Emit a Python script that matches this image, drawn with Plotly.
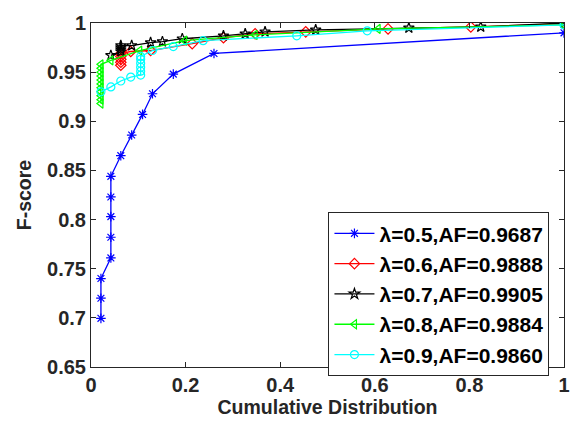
import plotly.graph_objects as go

x05 = [0.021, 0.021, 0.021, 0.042, 0.042, 0.042, 0.042, 0.042, 0.063, 0.086, 0.109, 0.130, 0.174, 0.260, 1.0]
y05 = [0.6995, 0.720, 0.740, 0.761, 0.782, 0.803, 0.823, 0.844, 0.865, 0.886, 0.907, 0.928, 0.948, 0.969, 0.990]

x06 = [0.063, 0.063, 0.063, 0.063, 0.063, 0.084, 0.126, 0.214, 0.280, 0.347, 0.454, 0.628, 0.803, 1.0]
y06 = [0.957, 0.960, 0.963, 0.966, 0.969, 0.971, 0.972, 0.979, 0.985, 0.989, 0.991, 0.994, 0.996, 0.999]

x07 = [0.042, 0.063, 0.063, 0.063, 0.063, 0.086, 0.126, 0.151, 0.193, 0.280, 0.326, 0.368, 0.475, 0.672, 0.824, 1.0]
y07 = [0.967, 0.971, 0.973, 0.975, 0.977, 0.977, 0.980, 0.981, 0.984, 0.987, 0.989, 0.991, 0.993, 0.995, 0.996, 1.0]

x08 = [0.021, 0.021, 0.021, 0.021, 0.021, 0.021, 0.021, 0.021, 0.021, 0.021, 0.021, 0.042, 0.103, 0.198, 0.347, 0.607, 1.0]
y08 = [0.918, 0.922, 0.926, 0.930, 0.934, 0.938, 0.942, 0.946, 0.950, 0.954, 0.958, 0.962, 0.972, 0.982, 0.988, 0.994, 0.998]

x09 = [0.021, 0.042, 0.063, 0.084, 0.105, 0.105, 0.105, 0.105, 0.105, 0.105, 0.130, 0.174, 0.237, 0.435, 0.584, 1.0]
y09 = [0.930, 0.935, 0.941, 0.945, 0.947, 0.951, 0.955, 0.959, 0.963, 0.966, 0.972, 0.976, 0.982, 0.987, 0.992, 0.998]

names = ["λ=0.5,AF=0.9687", "λ=0.6,AF=0.9888", "λ=0.7,AF=0.9905", "λ=0.8,AF=0.9884", "λ=0.9,AF=0.9860"]
colors = ["#0000ff", "#ff0000", "#000000", "#00ff00", "#00ffff"]
symbols = ["asterisk-open", "diamond-open", "star-open", "triangle-left-open", "circle-open"]
series = [(x05, y05), (x06, y06), (x07, y07), (x08, y08), (x09, y09)]

xticks = [0, 0.2, 0.4, 0.6, 0.8, 1]
xticklabels = ["0", "0.2", "0.4", "0.6", "0.8", "1"]
yticks = [0.65, 0.7, 0.75, 0.8, 0.85, 0.9, 0.95, 1]
yticklabels = ["0.65", "0.7", "0.75", "0.8", "0.85", "0.9", "0.95", "1"]

fig = go.Figure()
for (xs, ys), n, c, s in zip(series, names, colors, symbols):
    fig.add_trace(go.Scatter(
        x=xs, y=ys, name="<b>%s</b>" % n, mode="lines+markers",
        line=dict(color=c, width=1.3),
        marker=dict(symbol=s, size=8, color=c, line=dict(color=c, width=1.2)),
    ))

font = "Liberation Sans, Arial, sans-serif"
axis_common = dict(
    showgrid=False, zeroline=False, showline=True, linecolor="#262626", linewidth=1,
    mirror="ticks", ticks="inside", ticklen=5, tickcolor="#262626",
    tickfont=dict(family=font, size=20, color="#262626"),
)
fig.update_xaxes(range=[0, 1], tickvals=xticks, ticktext=["<b>%s</b>" % t for t in xticklabels],
                 title=dict(text="<b>Cumulative Distribution</b>", font=dict(family=font, size=19.5, color="#262626"), standoff=5),
                 **axis_common)
fig.update_yaxes(range=[0.65, 1], tickvals=yticks, ticktext=["<b>%s</b>" % t for t in yticklabels],
                 title=dict(text="<b>F-score</b>", font=dict(family=font, size=19.5, color="#262626"), standoff=10),
                 **axis_common)

fig.update_layout(
    width=582, height=432,
    margin=dict(l=91, r=15, t=14, b=65),
    paper_bgcolor="white", plot_bgcolor="white",
    font=dict(family=font, color="#000000"),
    legend=dict(
        x=0.502, y=0.45, xanchor="left", yanchor="top",
        bordercolor="#262626", borderwidth=1, bgcolor="white",
        font=dict(family=font, size=21, color="#000000"),
        tracegroupgap=0, itemwidth=40,
    ),
    showlegend=True,
)
fig.write_html("out.html", config={"displayModeBar": False},
               post_script="document.body.style.margin='0';")
